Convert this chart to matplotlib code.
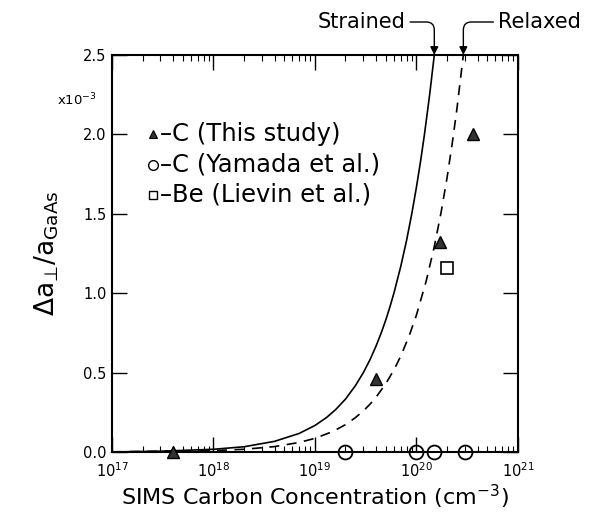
import numpy as np
import matplotlib
matplotlib.use("Agg")
import matplotlib.pyplot as plt
from matplotlib.ticker import FixedLocator, LogLocator, NullFormatter

# ---- data, y in units of 1e-3 ----
this_study_x = [4.0e17, 4.0e19, 1.7e20, 3.6e20]
this_study_y = [0.0, 0.46, 1.32, 2.00]
yamada_x = [2.0e19, 1.0e20, 1.5e20, 3.0e20]
yamada_y = [0.0, 0.0, 0.0, 0.0]
lievin_x = [2.0e20]
lievin_y = [1.16]

strained_x = [1e17, 3e17, 1e18, 2e18, 4e18, 7e18, 1e19, 1.3e19, 1.6e19, 2e19, 2.5e19,
              3e19, 3.5e19, 4e19, 4.5e19, 5e19, 5.5e19, 6e19, 7e19, 8e19, 9e19,
              1e20, 1.1e20, 1.2e20, 1.35e20, 1.5e20]
strained_y = [0.0, 0.005, 0.017, 0.033, 0.067, 0.117, 0.167, 0.217, 0.267, 0.333, 0.417,
              0.5, 0.583, 0.667, 0.75, 0.833, 0.917, 1.0, 1.167, 1.333, 1.5,
              1.667, 1.833, 2.0, 2.25, 2.5]
relaxed_x = [1e17, 1e18, 2e18, 4e18, 7e18, 1e19, 1.5e19, 2e19, 2.5e19, 3e19, 3.5e19,
             4e19, 5e19, 6e19, 7e19, 8.5e19, 1e20, 1.25e20, 1.5e20, 1.75e20, 2e20,
             2.25e20, 2.5e20, 2.9e20]
relaxed_y = [0.001, 0.009, 0.017, 0.034, 0.060, 0.086, 0.129, 0.172, 0.216, 0.259, 0.302,
             0.345, 0.431, 0.517, 0.603, 0.733, 0.862, 1.078, 1.293, 1.509, 1.724,
             1.940, 2.155, 2.5]

y_ticks = [0.0, 0.5, 1.0, 1.5, 2.0, 2.5]
y_ticklabels = ["0.0", "0.5", "1.0", "1.5", "2.0", "2.5"]
x_ticks = [1e17, 1e18, 1e19, 1e20, 1e21]
x_ticklabels = [r"$10^{17}$", r"$10^{18}$", r"$10^{19}$", r"$10^{20}$", r"$10^{21}$"]

legend_labels = ["–C (This study)", "–C (Yamada et al.)", "–Be (Lievin et al.)"]

plt.rcParams['font.family'] = ['DejaVu Sans']
plt.rcParams['mathtext.fontset'] = 'dejavusans'
plt.rcParams['mathtext.default'] = 'regular'

fig = plt.figure(figsize=(5.9, 5.12), dpi=100)
ax = fig.add_axes([0.1898, 0.1172, 0.688, 0.7754])
ax.set_xscale('log')
ax.set_xlim(1e17, 1e21)
ax.set_ylim(0, 2.5)

ax.plot(strained_x, strained_y, color='black', lw=1.2, zorder=2)
ax.plot(relaxed_x, relaxed_y, color='black', lw=1.2, ls=(0, (6, 4.5)), zorder=2)

ax.plot(this_study_x, this_study_y, ls='none', marker='^', ms=9, mfc='#333333',
        mec='black', mew=1.0, zorder=4, clip_on=False)
ax.plot(yamada_x, yamada_y, ls='none', marker='o', ms=10, mfc='none',
        mec='black', mew=1.3, zorder=4, clip_on=False)
ax.plot(lievin_x, lievin_y, ls='none', marker='s', ms=8, mfc='white',
        mec='black', mew=1.2, zorder=4)

# manual legend
leg_rows_y = [2.0, 1.81, 1.62]
leg_marker_x = 2.55e17
leg_text_x = 3.0e17
ax.plot([leg_marker_x], [leg_rows_y[0]], ls='none', marker='^', ms=6, mfc='#333333', mec='black', mew=0.8)
ax.plot([leg_marker_x], [leg_rows_y[1]], ls='none', marker='o', ms=7, mfc='none', mec='black', mew=1.0)
ax.plot([leg_marker_x], [leg_rows_y[2]], ls='none', marker='s', ms=6, mfc='none', mec='black', mew=1.0)
for yy, lab in zip(leg_rows_y, legend_labels):
    ax.text(leg_text_x, yy, lab, fontsize=17.5, va='center', ha='left')

# ticks
ax.yaxis.set_major_locator(FixedLocator(y_ticks))
ax.set_yticklabels(y_ticklabels)
ax.xaxis.set_major_locator(FixedLocator(x_ticks))
ax.set_xticklabels(x_ticklabels)
ax.xaxis.set_minor_locator(LogLocator(base=10, subs=np.arange(2, 10), numticks=20))
ax.xaxis.set_minor_formatter(NullFormatter())
ax.tick_params(axis='both', which='major', direction='in', length=11, width=1.0,
               top=True, right=True, labelsize=10.5)
ax.tick_params(axis='y', which='major', pad=4)
ax.tick_params(axis='x', which='major', pad=7)
ax.tick_params(axis='x', which='minor', direction='in', length=4, width=0.8,
               top=True, bottom=True)
for s in ax.spines.values():
    s.set_linewidth(1.5)

ax.set_xlabel(r"SIMS Carbon Concentration (cm$^{-3}$)", fontsize=16, labelpad=2)
ax.set_ylabel("$\\Delta a_{\u22a5}/a_{GaAs}$", fontsize=19, labelpad=16)
fig.text(57 / 590, 1 - 100 / 512, r"x10$^{-3}$", fontsize=9.5, ha='left', va='center')

# annotations
ax.annotate("Strained", xy=(1.5e20, 2.5), xycoords='data',
            xytext=(362 / 590, 1 - 22 / 512), textcoords='figure fraction',
            fontsize=15, ha='center', va='center',
            arrowprops=dict(arrowstyle='-|>', color='black', lw=1.0, shrinkA=1, shrinkB=0,
                            mutation_scale=12,
                            connectionstyle="angle,angleA=0,angleB=90,rad=8"))
ax.annotate("Relaxed", xy=(2.9e20, 2.5), xycoords='data',
            xytext=(539 / 590, 1 - 22 / 512), textcoords='figure fraction',
            fontsize=15, ha='center', va='center',
            arrowprops=dict(arrowstyle='-|>', color='black', lw=1.0, shrinkA=1, shrinkB=0,
                            mutation_scale=12,
                            connectionstyle="angle,angleA=0,angleB=90,rad=8"))

fig.savefig("out.png", dpi=100)
